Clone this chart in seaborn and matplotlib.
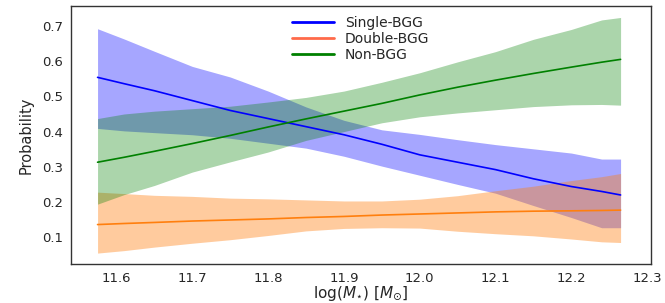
import pandas as pd
import matplotlib.pyplot as plt
import seaborn as sns
import numpy as np

# log stellar mass grid
log_mass = [11.575, 11.61, 11.65, 11.70, 11.75, 11.80, 11.85, 11.90,
            11.95, 12.00, 12.05, 12.10, 12.15, 12.20, 12.24, 12.265]

# Single-BGG
single_mid = [0.554, 0.536, 0.516, 0.488, 0.460, 0.437, 0.414, 0.391,
              0.364, 0.334, 0.313, 0.292, 0.266, 0.244, 0.230, 0.220]
single_hi = [0.692, 0.663, 0.628, 0.585, 0.555, 0.515, 0.470, 0.432,
             0.405, 0.392, 0.377, 0.363, 0.351, 0.339, 0.322, 0.322]
single_lo = [0.409, 0.402, 0.397, 0.391, 0.381, 0.367, 0.353, 0.330,
             0.302, 0.276, 0.250, 0.225, 0.190, 0.156, 0.127, 0.127]

# Double-BGG
double_mid = [0.136, 0.139, 0.142, 0.146, 0.149, 0.152, 0.156, 0.159,
              0.163, 0.166, 0.169, 0.172, 0.174, 0.175, 0.176, 0.177]
double_hi = [0.228, 0.224, 0.219, 0.216, 0.211, 0.209, 0.206, 0.203,
             0.203, 0.208, 0.218, 0.232, 0.245, 0.261, 0.272, 0.281]
double_lo = [0.055, 0.062, 0.072, 0.083, 0.093, 0.105, 0.118, 0.125,
             0.127, 0.126, 0.117, 0.110, 0.104, 0.095, 0.087, 0.085]

# Non-BGG
non_mid = [0.313, 0.327, 0.344, 0.366, 0.389, 0.413, 0.436, 0.458,
           0.480, 0.504, 0.526, 0.546, 0.565, 0.583, 0.597, 0.605]
non_hi = [0.437, 0.450, 0.458, 0.465, 0.472, 0.484, 0.497, 0.515,
          0.540, 0.567, 0.598, 0.627, 0.662, 0.690, 0.717, 0.724]
non_lo = [0.194, 0.221, 0.247, 0.285, 0.314, 0.342, 0.375, 0.400,
          0.425, 0.442, 0.453, 0.462, 0.471, 0.476, 0.477, 0.475]

labels = ['Single-BGG', 'Double-BGG', 'Non-BGG']
colors = ['blue', '#ff7f0e', 'green']
fill_alpha = [0.35, 0.4, 0.33]
xtick_vals = [11.6, 11.7, 11.8, 11.9, 12.0, 12.1, 12.2, 12.3]
ytick_vals = [0.1, 0.2, 0.3, 0.4, 0.5, 0.6, 0.7]

sns.set_style('white')
plt.rcParams['font.family'] = ['DejaVu Sans']

fig = plt.figure(figsize=(6.65, 3.03), dpi=100)
ax = fig.add_axes([0.1068, 0.1287, 0.872, 0.852])

mids = [single_mid, double_mid, non_mid]
his = [single_hi, double_hi, non_hi]
los = [single_lo, double_lo, non_lo]

# bands first
for lo, hi, c, a in zip(los, his, colors, fill_alpha):
    ax.fill_between(log_mass, lo, hi, color=c, alpha=a, linewidth=0)

# median lines
df = pd.concat([pd.DataFrame({'logM': log_mass, 'P': m, 'kind': lab})
                for m, lab in zip(mids, labels)])
sns.lineplot(data=df, x='logM', y='P', hue='kind', palette=colors,
             hue_order=labels, linewidth=1.2, ax=ax, legend=False)

handles = [plt.Line2D([], [], color=c, lw=2) for c in colors]
handles[1].set_color('#ff6a4a')
ax.legend(handles, labels, loc='upper center', frameon=False, fontsize=10,
          handlelength=3, labelspacing=0.15, borderaxespad=0.3,
          bbox_to_anchor=(0.5, 1.0))

ax.set_xlim(11.54, 12.305)
ax.set_ylim(0.024, 0.757)
ax.set_xticks(xtick_vals)
ax.set_yticks(ytick_vals)
ax.tick_params(labelsize=9.5, pad=2)
for s in ax.spines.values():
    s.set_color('#333333')
    s.set_linewidth(1.0)

ax.set_xlabel(r'$\log(M_{\star})\ [M_{\odot}]$', fontsize=11, labelpad=0)
ax.set_ylabel('Probability', fontsize=10.5, labelpad=6)

plt.savefig('out.png', dpi=100)
